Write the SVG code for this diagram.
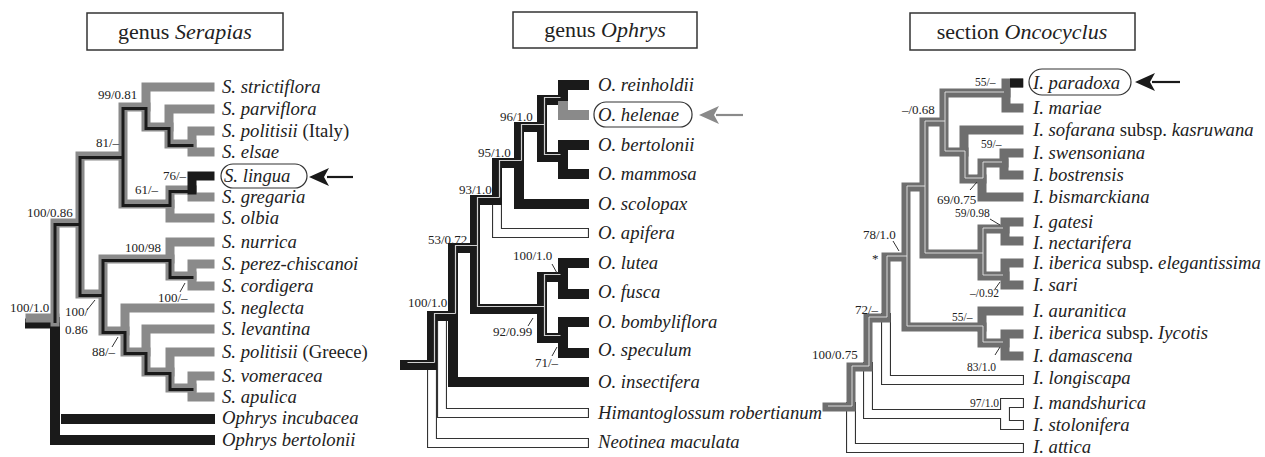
<svg xmlns="http://www.w3.org/2000/svg" width="1265" height="457" viewBox="0 0 1265 457">
<style>
.sg{stroke:#8a8a8a;stroke-width:9;fill:none;stroke-linecap:square;stroke-linejoin:miter}
.sb{stroke:#1a1a1a;stroke-width:3;fill:none;stroke-linecap:square}
.sk{stroke:#1a1a1a;stroke-width:10;fill:none;stroke-linecap:square}
.ob{stroke:#1a1a1a;stroke-width:10;fill:none;stroke-linecap:square}
.oh{stroke:#cfcfcf;stroke-width:1.2;fill:none}
.og{stroke:#8a8a8a;stroke-width:10;fill:none;stroke-linecap:square}
.hb{stroke:#333;stroke-width:10;fill:none;stroke-linecap:square}
.hw{stroke:#fff;stroke-width:7.8;fill:none;stroke-linecap:square}
.ig{stroke:#6e6e6e;stroke-width:9;fill:none;stroke-linecap:square}
.iw{stroke:#e4e4e4;stroke-width:0.9;fill:none}
.ik{stroke:#1a1a1a;stroke-width:9;fill:none;stroke-linecap:butt}
.tx{font-family:"Liberation Serif",serif;font-size:18.7px;font-style:italic;fill:#222}
.n{font-style:normal}
.lb{font-family:"Liberation Serif",serif;font-size:13px;fill:#222}
.ls{font-family:"Liberation Serif",serif;font-size:11.5px;fill:#222}
.tt{font-family:"Liberation Serif",serif;font-size:22px;fill:#222}
.tk{stroke:#333;stroke-width:1;fill:none}
.bx{fill:none;stroke:#333;stroke-width:1.5}
.rb{fill:none;stroke:#333;stroke-width:1.2}
</style>

<!-- Titles -->
<g id="title-serapias"><rect class="bx" x="87" y="13" width="196" height="37"/><text class="tt" x="185" y="39" text-anchor="middle">genus <tspan font-style="italic">Serapias</tspan></text></g>
<g id="title-ophrys"><rect class="bx" x="513" y="12" width="184" height="36"/><text class="tt" x="605" y="37" text-anchor="middle">genus <tspan font-style="italic">Ophrys</tspan></text></g>
<g id="title-oncocyclus"><rect class="bx" x="910" y="13" width="225" height="37"/><text class="tt" x="1022" y="39" text-anchor="middle">section <tspan font-style="italic">Oncocyclus</tspan></text></g>

<!-- Connectors -->
<g id="connectors">
 <!-- Serapias -->
 <g id="serapias-branches">
  <path class="sk" d="M55 322 V440 H210 M55 419 H210"/>
  <path d="M60.5 414 V424" stroke="#fff" stroke-width="1"/>
  <path class="sk" d="M30 323.5 H55" stroke-width="6"/>
  <path class="sg" d="M30 318 H55" stroke-width="5"/>
  <path class="sg" d="M55 322 V223 H80 M80 223 V156 H123 M80 223 V294 H103 M123 156 V107 H146 M123 156 V204 H170 M146 107 V127 H169 M169 127 V144 H192 M170 204 V190 H192 M103 294 V259 H170 M103 294 V331 H125 M170 259 V276 H192 M125 331 V352 H146 M146 352 V372 H170 M170 372 V388 H192"/>
  <path class="sg" d="M146 107 V87 H210 M169 127 V109 H210 M192 144 V131 H210 M192 144 V152 H210 M192 190 V197 H210 M170 204 V218 H210 M170 259 V242 H210 M192 276 V264 H210 M192 276 V286 H210 M125 331 V308 H210 M146 352 V329 H210 M170 372 V352 H210 M192 388 V376 H210 M192 388 V397 H210"/>
  <path class="sb" transform="translate(0,1.5)" d="M55 320 V223 H80 M80 223 V156 H123 M80 223 V294 H103 M123 156 V107 H146 M123 156 V204 H170 M146 107 V127 H169 M169 127 V144 H192 M170 204 V190 H192 M103 294 V259 H170 M103 294 V331 H125 M170 259 V276 H192 M125 331 V352 H146 M146 352 V372 H170 M170 372 V388 H192"/>
  <path class="sg" style="stroke:#1a1a1a" d="M192 190 V176 H210"/>
 </g>
 <!-- Ophrys -->
 <g id="ophrys-branches">
  <path class="hb" d="M442 316 V413 H584 M432 365 V443 H584 M497 200 V233 H584"/>
  <path class="hw" d="M442 316 V413 H584 M432 365 V443 H584 M497 200 V233 H584"/>
  <path class="ob" d="M405 365 H432 M432 365 V316 H453 M453 316 V248 H475 M475 248 V200 H497 M475 248 V309 H542 M497 200 V163 H519 M519 163 V127 H542 M542 127 V100 H563 M542 127 V157 H563 M542 309 V277 H563 M542 309 V338 H563"/>
  <path class="ob" d="M453 316 V382 H584 M519 163 V204 H584 M563 100 V85 H584 M563 157 V145 H584 M563 157 V174 H584 M563 277 V263 H584 M563 277 V294 H584 M563 338 V322 H584 M563 338 V353 H584"/>
  <path class="og" d="M563 106 V115 H584"/>
  <path class="oh" transform="translate(2.5,-2.5)" d="M405 365 H432 M432 365 V316 H453 M453 316 V248 H475 M475 248 V200 H497 M475 248 V309 H542 M497 200 V163 H519 M519 163 V127 H542 M542 127 V100 H558 M542 127 V157 H558 M542 309 V277 H558 M542 309 V338 H558"/>
 </g>
 <!-- Oncocyclus -->
 <g id="oncocyclus-branches">
  <path class="hb" d="M851 407 V448 H1019 M868 367 V414 H1005 M1005 414 V403 H1019 M1005 414 V425 H1019 M886 318 V380 H1019"/>
  <path class="hw" d="M851 407 V448 H1019 M868 367 V414 H1005 M1005 414 V403 H1019 M1005 414 V425 H1019 M886 318 V380 H1019"/>
  <path class="ig" d="M827 407 H851 M851 407 V367 H868 M868 367 V318 H886 M886 318 V257 H906 M906 257 V187 H924 M906 257 V327 H982 M924 187 V122 H944 M924 187 V254 H982 M944 122 V93 H1006 M944 122 V152 H964 M964 152 V179 H982 M982 179 V163 H1004 M982 254 V229 H1005 M982 254 V276 H1005 M982 327 V343 H1005"/>
  <path class="ig" d="M1006 93 V83 H1019 M1006 93 V108 H1019 M964 152 V130 H1019 M1004 163 V153 H1019 M1004 163 V175 H1019 M982 179 V197 H1019 M1005 229 V222 H1019 M1005 229 V241 H1019 M1005 276 V263 H1019 M1005 276 V285 H1019 M982 327 V311 H1019 M1005 343 V334 H1019 M1005 343 V356 H1019"/>
  <path class="iw" transform="translate(1,-1)" d="M827 407 H851 M851 407 V367 H868 M868 367 V318 H886 M886 318 V257 H906 M906 257 V187 H924 M906 257 V327 H982 M924 187 V122 H944 M924 187 V254 H982 M944 122 V93 H1003 M944 122 V152 H964 M964 152 V179 H982 M982 179 V163 H1001 M982 254 V229 H1002 M982 254 V276 H1002 M982 327 V343 H1002"/>
  <path class="ik" d="M1010 83 H1023"/>
 </g>
 <!-- ticks -->
 <g id="ticks">
  <path class="tk" d="M95 300 L87 310 M185 283 L180 292 M118 337 L112 347"/>
  <path class="tk" d="M552 264 L557 273 M533 318 L528 326 M557 347 L552 356"/>
  <path class="tk" d="M893 241 L899 251 M977 182 L970 190 M990 219 L1000 225 M1000 282 L995 289 M1000 347 L995 355"/>
 </g>
 <!-- arrows -->
 <g id="arrows">
  <path d="M327 177 H353" stroke="#1a1a1a" stroke-width="2.2" fill="none"/>
  <polygon points="309,177 329,168 324,177 329,186" fill="#1a1a1a"/>
  <path d="M716 115 H743" stroke="#8a8a8a" stroke-width="2.2" fill="none"/>
  <polygon points="699,115 719,106 714,115 719,124" fill="#8a8a8a"/>
  <path d="M1152 82 H1180" stroke="#1a1a1a" stroke-width="2.2" fill="none"/>
  <polygon points="1135,82 1155,73 1150,82 1155,91" fill="#1a1a1a"/>
 </g>
</g>

<!-- Support labels -->
<g id="support-serapias">
 <text class="lb" x="98" y="99">99/0.81</text>
 <text class="lb" x="96" y="147">81/–</text>
 <text class="lb" x="163" y="180">76/–</text>
 <text class="lb" x="135" y="194">61/–</text>
 <text class="lb" x="27" y="217">100/0.86</text>
 <text class="lb" x="125" y="252">100/98</text>
 <text class="lb" x="10" y="312">100/1.0</text>
 <text class="lb" x="65" y="316">100/</text>
 <text class="lb" x="65" y="334">0.86</text>
 <text class="lb" x="158" y="302">100/–</text>
 <text class="lb" x="92" y="356">88/–</text>
</g>
<g id="support-ophrys">
 <text class="lb" x="500" y="121">96/1.0</text>
 <text class="lb" x="478" y="157">95/1.0</text>
 <text class="lb" x="459" y="194">93/1.0</text>
 <text class="lb" x="428" y="244">53/0.72</text>
 <text class="lb" x="513" y="260">100/1.0</text>
 <text class="lb" x="408" y="307">100/1.0</text>
 <text class="lb" x="493" y="336">92/0.99</text>
 <text class="lb" x="535" y="367">71/–</text>
</g>
<g id="support-oncocyclus">
 <text class="ls" x="975" y="86">55/–</text>
 <text class="lb" x="902" y="114">–/0.68</text>
 <text class="ls" x="981" y="148">59/–</text>
 <text class="lb" x="937" y="204">69/0.75</text>
 <text class="ls" x="955" y="217">59/0.98</text>
 <text class="lb" x="863" y="239">78/1.0</text>
 <text class="lb" x="872" y="263">*</text>
 <text class="ls" x="970" y="297">–/0.92</text>
 <text class="lb" x="855" y="314">72/–</text>
 <text class="ls" x="952" y="321">55/–</text>
 <text class="lb" x="812" y="359">100/0.75</text>
 <text class="ls" x="967" y="371">83/1.0</text>
 <text class="ls" x="970" y="407">97/1.0</text>
</g>

<!-- Serapias taxa -->
<g id="serapias-taxa">
 <g id="t-strictiflora"><text class="tx" x="222" y="93">S. strictiflora</text></g>
 <g id="t-parviflora"><text class="tx" x="222" y="115">S. parviflora</text></g>
 <g id="t-politisii-it"><text class="tx" x="222" y="137">S. politisii <tspan class="n">(Italy)</tspan></text></g>
 <g id="t-elsae"><text class="tx" x="222" y="158">S. elsae</text></g>
 <g id="t-lingua"><rect class="rb" x="221" y="164" width="86" height="24" rx="12"/><text class="tx" x="224" y="182">S. lingua</text></g>
 <g id="t-gregaria"><text class="tx" x="222" y="203">S. gregaria</text></g>
 <g id="t-olbia"><text class="tx" x="222" y="224">S. olbia</text></g>
 <g id="t-nurrica"><text class="tx" x="222" y="248">S. nurrica</text></g>
 <g id="t-perez"><text class="tx" x="222" y="270">S. perez-chiscanoi</text></g>
 <g id="t-cordigera"><text class="tx" x="222" y="292">S. cordigera</text></g>
 <g id="t-neglecta"><text class="tx" x="222" y="314">S. neglecta</text></g>
 <g id="t-levantina"><text class="tx" x="222" y="335">S. levantina</text></g>
 <g id="t-politisii-gr"><text class="tx" x="222" y="358">S. politisii <tspan class="n">(Greece)</tspan></text></g>
 <g id="t-vomeracea"><text class="tx" x="222" y="382">S. vomeracea</text></g>
 <g id="t-apulica"><text class="tx" x="222" y="403">S. apulica</text></g>
 <g id="t-incubacea"><text class="tx" x="222" y="424">Ophrys incubacea</text></g>
 <g id="t-bertolonii-s"><text class="tx" x="222" y="446">Ophrys bertolonii</text></g>
</g>

<!-- Ophrys taxa -->
<g id="ophrys-taxa">
 <g id="t-reinholdii"><text class="tx" x="598" y="91">O. reinholdii</text></g>
 <g id="t-helenae"><rect class="rb" x="594" y="102" width="98" height="25" rx="12"/><text class="tx" x="598" y="121">O. helenae</text></g>
 <g id="t-bertolonii"><text class="tx" x="598" y="151">O. bertolonii</text></g>
 <g id="t-mammosa"><text class="tx" x="598" y="180">O. mammosa</text></g>
 <g id="t-scolopax"><text class="tx" x="598" y="210">O. scolopax</text></g>
 <g id="t-apifera"><text class="tx" x="598" y="239">O. apifera</text></g>
 <g id="t-lutea"><text class="tx" x="598" y="269">O. lutea</text></g>
 <g id="t-fusca"><text class="tx" x="598" y="298">O. fusca</text></g>
 <g id="t-bombyliflora"><text class="tx" x="598" y="328">O. bombyliflora</text></g>
 <g id="t-speculum"><text class="tx" x="598" y="356">O. speculum</text></g>
 <g id="t-insectifera"><text class="tx" x="598" y="388">O. insectifera</text></g>
 <g id="t-himantoglossum"><text class="tx" x="598" y="419">Himantoglossum robertianum</text></g>
 <g id="t-neotinea"><text class="tx" x="598" y="448">Neotinea maculata</text></g>
</g>

<!-- Oncocyclus taxa -->
<g id="oncocyclus-taxa">
 <g id="t-paradoxa"><rect class="rb" x="1029" y="69" width="102" height="26" rx="13"/><text class="tx" x="1033" y="89">I. paradoxa</text></g>
 <g id="t-mariae"><text class="tx" x="1033" y="114">I. mariae</text></g>
 <g id="t-sofarana"><text class="tx" x="1033" y="136">I. sofarana <tspan class="n">subsp.</tspan> kasruwana</text></g>
 <g id="t-swensoniana"><text class="tx" x="1033" y="159">I. swensoniana</text></g>
 <g id="t-bostrensis"><text class="tx" x="1033" y="181">I. bostrensis</text></g>
 <g id="t-bismarckiana"><text class="tx" x="1033" y="203">I. bismarckiana</text></g>
 <g id="t-gatesi"><text class="tx" x="1033" y="228">I. gatesi</text></g>
 <g id="t-nectarifera"><text class="tx" x="1033" y="249">I. nectarifera</text></g>
 <g id="t-elegantissima"><text class="tx" x="1033" y="269">I. iberica <tspan class="n">subsp.</tspan> elegantissima</text></g>
 <g id="t-sari"><text class="tx" x="1033" y="291">I. sari</text></g>
 <g id="t-auranitica"><text class="tx" x="1033" y="317">I. auranitica</text></g>
 <g id="t-lycotis"><text class="tx" x="1033" y="339">I. iberica <tspan class="n">subsp.</tspan> Iycotis</text></g>
 <g id="t-damascena"><text class="tx" x="1033" y="362">I. damascena</text></g>
 <g id="t-longiscapa"><text class="tx" x="1033" y="384">I. longiscapa</text></g>
 <g id="t-mandshurica"><text class="tx" x="1033" y="409">I. mandshurica</text></g>
 <g id="t-stolonifera"><text class="tx" x="1033" y="431">I. stolonifera</text></g>
 <g id="t-attica"><text class="tx" x="1033" y="453">I. attica</text></g>
</g>
</svg>
